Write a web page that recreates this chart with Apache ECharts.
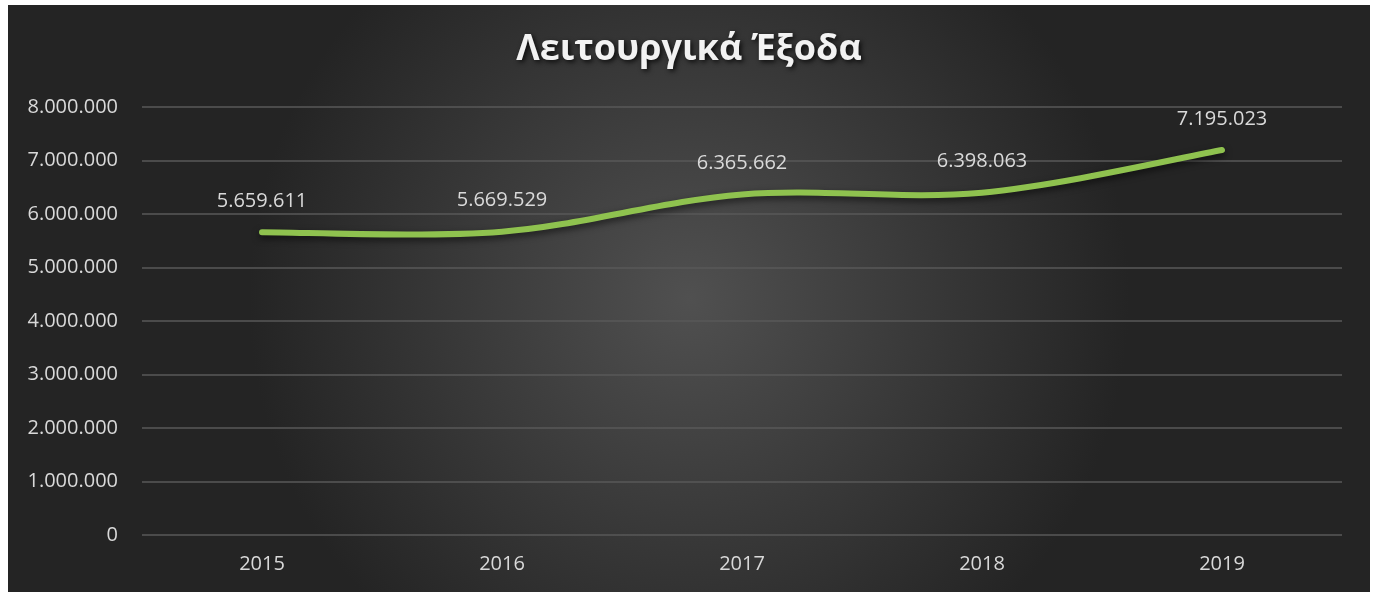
<!DOCTYPE html>
<html>
<head>
<meta charset="utf-8">
<script src="https://cdn.jsdelivr.net/npm/echarts@6/dist/echarts.min.js"></script>
<style>
  html, body { margin: 0; padding: 0; background: #ffffff; }
  #chart { position: absolute; left: 8px; top: 5px; width: 1362px; height: 587px; }
</style>
</head>
<body>
<div id="chart"></div>
<script>
const titleText = 'Λειτουργικά Έξοδα';
const years = ['2015', '2016', '2017', '2018', '2019'];
const expenses = [5659611, 5669529, 6365662, 6398063, 7195023];

const FONT = 'Open Sans';
const LABEL_COLOR = '#d9d9d9';

// Greek-style thousands separator: 5.659.611
function fmt(v) {
  return String(Math.round(v)).replace(/\B(?=(\d{3})+(?!\d))/g, '.');
}

// Smoothed curve through all points (Catmull-Rom style Bezier segments),
// with each point placed through the chart's own axes via api.coord.
function renderCurve(params, api) {
  const n = params.dataInsideLength;
  const i = params.dataIndexInside;
  const children = [];
  const p = api.coord([api.value(0, i), api.value(1, i)]);

  if (i === 0) {
    const pts = [];
    for (let k = 0; k < n; k++) pts.push(api.coord([api.value(0, k), api.value(1, k)]));
    const at = k => pts[Math.max(0, Math.min(n - 1, k))];
    let d = 'M' + pts[0][0] + ' ' + pts[0][1];
    for (let k = 0; k < n - 1; k++) {
      const p0 = at(k - 1), p1 = at(k), p2 = at(k + 1), p3 = at(k + 2);
      const c1x = p1[0] + (p2[0] - p0[0]) / 6, c1y = p1[1] + (p2[1] - p0[1]) / 6;
      const c2x = p2[0] - (p3[0] - p1[0]) / 6, c2y = p2[1] - (p3[1] - p1[1]) / 6;
      d += ' C' + c1x + ' ' + c1y + ' ' + c2x + ' ' + c2y + ' ' + p2[0] + ' ' + p2[1];
    }
    children.push({
      type: 'path',
      shape: { pathData: d },
      style: {
        fill: 'none',
        stroke: '#8fc24f',
        lineWidth: 6,
        lineCap: 'round',
        lineJoin: 'round',
        shadowColor: 'rgba(0,0,0,0.6)',
        shadowBlur: 7,
        shadowOffsetY: 3
      }
    });
  }

  children.push({
    type: 'text',
    z2: 10,
    style: {
      x: p[0],
      y: p[1] - 31,
      text: fmt(api.value(1, i)),
      fill: LABEL_COLOR,
      font: '20px "' + FONT + '"',
      align: 'center',
      verticalAlign: 'middle'
    }
  });

  return { type: 'group', children: children };
}

const chart = echarts.init(document.getElementById('chart'));
chart.setOption({
  backgroundColor: {
    type: 'radial', x: 0.5, y: 0.5, r: 0.75,
    colorStops: [
      { offset: 0, color: '#505050' },
      { offset: 1, color: '#242424' }
    ]
  },
  title: {
    text: titleText,
    left: 'center',
    top: 22,
    textStyle: {
      fontFamily: FONT,
      fontSize: 36,
      fontWeight: 'bold',
      color: '#f2f2f2',
      textShadowColor: 'rgba(0,0,0,0.8)',
      textShadowBlur: 5,
      textShadowOffsetX: 2,
      textShadowOffsetY: 2
    }
  },
  grid: { left: 134, right: 28, top: 102, bottom: 57 },
  xAxis: {
    type: 'category',
    data: years,
    boundaryGap: true,
    axisLine: { show: false },
    axisTick: { show: false },
    axisLabel: {
      color: LABEL_COLOR,
      fontFamily: FONT,
      fontSize: 20,
      margin: 19
    }
  },
  yAxis: {
    type: 'value',
    min: 0,
    max: 8000000,
    interval: 1000000,
    axisLine: { show: false },
    axisTick: { show: false },
    splitLine: { lineStyle: { color: '#585858', width: 1.5 } },
    axisLabel: {
      color: LABEL_COLOR,
      fontFamily: FONT,
      fontSize: 20,
      margin: 24,
      formatter: fmt
    }
  },
  series: [{
    type: 'custom',
    renderItem: renderCurve,
    encode: { x: 0, y: 1 },
    data: expenses.map((v, i) => [i, v]),
    clip: false
  }]
});
</script>
</body>
</html>
